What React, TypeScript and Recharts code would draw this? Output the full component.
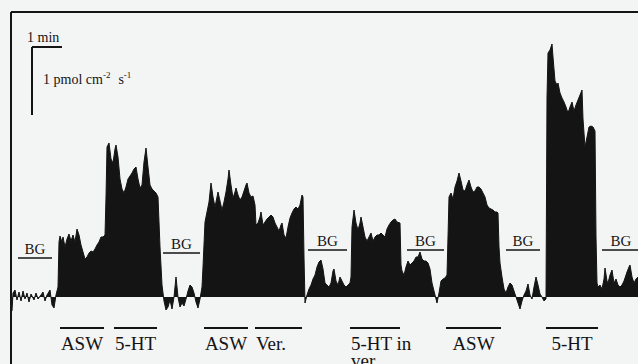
import { AreaChart, Area, XAxis, YAxis, ReferenceLine } from "recharts";

// ─── Trace (time in chart units, signal relative to background) ───────────────

const bg1: [number, number][] = [
  [12, -14], [13, 4], [15, 7], [17, -3], [19, 5], [21, -4], [23, 6], [25, -2], [27, 4], [29, -5],
  [31, 3], [34, -3], [36, 4], [38, -2], [41, 2], [43, 5], [45, -4], [47, 2], [50, 7], [52, -8],
  [54, -11], [56, 2], [57, 6],
];
const asw1: [number, number][] = [
  [58, 10], [59, 55], [60, 61], [62, 55], [63, 60], [65, 50], [67, 58], [69, 63], [71, 56], [73, 62],
  [75, 55], [77, 68], [79, 62], [81, 52], [83, 45], [85, 38], [87, 40], [89, 44], [91, 46], [93, 45],
  [95, 48], [97, 52], [99, 55], [101, 60], [103, 60],
];
const serotonin1: [number, number][] = [
  [105, 62], [106, 100], [107, 150], [109, 154], [111, 138], [113, 134], [115, 148], [116, 152],
  [118, 140], [120, 118], [122, 108], [124, 104], [126, 110], [128, 118], [130, 121], [132, 124],
  [134, 128], [136, 130], [138, 118], [140, 109], [142, 112], [144, 135], [146, 149], [148, 130],
  [150, 112], [152, 108], [154, 106], [156, 104], [158, 100], [160, 50], [162, 12],
];
const bg2: [number, number][] = [
  [164, -4], [166, -13], [168, -10], [170, -3], [172, -12], [174, 0], [176, 20], [178, 0], [180, -10],
  [182, -6], [184, -9], [186, -2], [188, 6], [190, 12], [192, 10], [194, 4], [196, -5], [198, -11],
  [200, -2],
];
const asw2: [number, number][] = [
  [202, 10], [203, 30], [205, 75], [207, 85], [209, 95], [211, 114], [213, 100], [215, 90], [217, 100],
  [218, 105], [220, 96], [222, 87], [224, 95], [226, 105], [228, 118], [229, 127], [231, 112],
  [233, 99], [235, 105], [236, 109], [238, 102], [240, 97], [242, 100], [244, 106], [246, 112],
  [247, 114], [249, 104], [251, 100], [253, 101], [255, 92],
];
const verapamil: [number, number][] = [
  [256, 72], [258, 74], [260, 80], [261, 85], [263, 72], [265, 75], [267, 78], [269, 80], [271, 82],
  [273, 80], [275, 74], [277, 70], [279, 66], [281, 72], [282, 74], [284, 62], [286, 59], [288, 70],
  [290, 79], [292, 84], [294, 88], [296, 90], [298, 88], [300, 92], [302, 102], [303, 100], [304, 40],
];
const bg3: [number, number][] = [
  [305, -6], [307, 2], [309, 8], [311, 12], [313, 18], [315, 22], [317, 30], [319, 35], [321, 37],
  [323, 28], [325, 14], [327, 12], [329, 10], [331, 14], [333, 26], [334, 28], [336, 16], [338, 12],
  [340, 20], [342, 16], [344, 12], [346, 10], [348, 12], [350, 14],
];
const serotoninInVer: [number, number][] = [
  [351, 20], [352, 70], [354, 87], [356, 74], [358, 67], [360, 74], [361, 80], [363, 70], [365, 60],
  [367, 56], [369, 60], [371, 64], [373, 56], [375, 60], [377, 62], [379, 62], [381, 64], [383, 62],
  [385, 60], [387, 68], [389, 72], [391, 75], [393, 77], [395, 78], [397, 75], [400, 74], [401, 32],
];
const bg4: [number, number][] = [
  [402, 26], [404, 22], [406, 30], [408, 36], [410, 32], [412, 34], [414, 36], [416, 40], [418, 40],
  [420, 45], [422, 38], [424, 36], [426, 36], [428, 34], [430, 28], [432, 14], [434, 6], [436, -2],
  [437, -6], [439, 4], [441, 16], [443, 18], [445, 19], [447, 22],
];
const asw3: [number, number][] = [
  [448, 60], [449, 100], [451, 104], [453, 98], [455, 110], [457, 116], [459, 124], [461, 116],
  [463, 107], [465, 106], [467, 112], [469, 117], [471, 110], [473, 105], [475, 106], [477, 110],
  [479, 110], [481, 108], [483, 104], [485, 100], [487, 92], [489, 89], [491, 88], [493, 87],
  [495, 85], [497, 85], [498, 84], [499, 50], [500, 34], [502, 20], [504, 8],
];
const bg5: [number, number][] = [
  [506, 4], [508, 10], [510, 14], [512, 12], [514, 6], [516, 0], [518, -6], [520, -12], [522, -4],
  [524, 2], [526, 6], [528, 13], [530, 2], [532, -2], [534, 10], [536, 20], [538, 12], [540, 3],
  [542, 0], [544, -4], [546, -2],
];
const serotonin2: [number, number][] = [
  [547, 200], [548, 244], [550, 247], [551, 250], [552, 253], [553, 240], [555, 216], [557, 212],
  [558, 214], [560, 204], [562, 199], [564, 195], [566, 190], [568, 184], [570, 190], [572, 195],
  [574, 186], [576, 192], [578, 197], [580, 202], [582, 207], [583, 178], [585, 150], [587, 160],
  [589, 170], [591, 171], [593, 170], [595, 166], [596, 60], [597, 14],
];
const bg6: [number, number][] = [
  [598, 10], [600, 12], [602, 8], [604, 18], [605, 29], [607, 16], [608, 14], [610, 22], [612, 27],
  [614, 14], [616, 18], [618, 12], [620, 10], [622, 12], [624, 16], [626, 22], [627, 25], [629, 30],
  [630, 32], [632, 20], [634, 14], [636, 18], [638, 20],
];

const trace = [
  ...bg1, ...asw1, ...serotonin1, ...bg2, ...asw2, ...verapamil, ...bg3,
  ...serotoninInVer, ...bg4, ...asw3, ...bg5, ...serotonin2, ...bg6,
].map(([t, v]) => ({ t, v }));

// ─── Annotations ───────────────────────────────────────────────────────────────

const bgMarks = [
  { from: 18, to: 52, level: 39 },
  { from: 163, to: 200, level: 44 },
  { from: 308, to: 347, level: 47 },
  { from: 407, to: 444, level: 47 },
  { from: 506, to: 540, level: 47 },
  { from: 602, to: 640, level: 47 },
];

const treatmentLevel = -31;
const treatments = [
  { label: ["ASW"], from: 60, to: 104, align: "middle" },
  { label: ["5-HT"], from: 114, to: 157, align: "middle" },
  { label: ["ASW"], from: 204, to: 248, align: "middle" },
  { label: ["Ver."], from: 255, to: 302, align: "start" },
  { label: ["5-HT in", "ver"], from: 350, to: 400, align: "start" },
  { label: ["ASW"], from: 446, to: 501, align: "middle" },
  { label: ["5-HT"], from: 546, to: 598, align: "middle" },
];

// scale bar: 1 min horizontally, 1 pmol cm-2 s-1 vertically
const scaleBar = { t0: 32, t1: 62, top: 250, bottom: 182 };

const ink = "#141414";
const serif = '"Liberation Serif", "Times New Roman", serif';

function textLabel(lines: string[], size: number, align: string, dx: number, dys: number[]) {
  return (props: any) => {
    const vb = props.viewBox || { x: 0, y: 0, width: 0, height: 0 };
    const x = (align === "middle" ? vb.x + vb.width / 2 : vb.x) + dx;
    return (
      <g>
        {lines.map((s, i) => (
          <text
            key={i}
            x={x}
            y={vb.y + dys[i]}
            textAnchor={align}
            fontFamily={serif}
            fontSize={size}
            fill={ink}
          >
            {s}
          </text>
        ))}
      </g>
    );
  };
}

function unitLabel(props: any) {
  const vb = props.viewBox || { x: 0, y: 0 };
  return (
    <text x={vb.x + 11} y={vb.y + 37} fontFamily={serif} fontSize={14} fill={ink}>
      1 pmol cm
      <tspan fontSize={9} dy={-6}>-2</tspan>
      <tspan dy={6} dx={8}>s</tspan>
      <tspan fontSize={9} dy={-6}>-1</tspan>
    </text>
  );
}

export default function App() {
  return (
    <div
      style={{
        position: "absolute",
        left: 0,
        top: 0,
        width: 638,
        height: 364,
        background: "#f3f4f4",
        overflow: "hidden",
      }}
    >
      <AreaChart
        width={638}
        height={364}
        data={trace}
        margin={{ top: 12, right: 0, bottom: 0, left: 11 }}
      >
        <XAxis dataKey="t" type="number" domain={[11, 638]} hide />
        <YAxis type="number" domain={[-67, 285]} hide />

        {/* frame: left and top edges */}
        <ReferenceLine x={11} stroke={ink} strokeWidth={2} ifOverflow="visible" />
        <ReferenceLine y={285} stroke={ink} strokeWidth={2} ifOverflow="visible" />

        <Area
          type="linear"
          dataKey="v"
          baseValue={0}
          stroke={ink}
          strokeWidth={1}
          fill={ink}
          fillOpacity={1}
          dot={false}
          activeDot={false}
          isAnimationActive={false}
        />

        {/* scale bar */}
        <ReferenceLine
          segment={[{ x: scaleBar.t0, y: scaleBar.top }, { x: scaleBar.t1, y: scaleBar.top }]}
          stroke={ink}
          strokeWidth={2}
          ifOverflow="visible"
          label={textLabel(["1 min"], 14, "start", -5, [-5])}
        />
        <ReferenceLine
          segment={[{ x: scaleBar.t0, y: scaleBar.top }, { x: scaleBar.t0, y: scaleBar.bottom }]}
          stroke={ink}
          strokeWidth={2}
          ifOverflow="visible"
          label={unitLabel}
        />

        {/* background periods */}
        {bgMarks.map((m, i) => (
          <ReferenceLine
            key={"bg" + i}
            segment={[{ x: m.from, y: m.level }, { x: m.to, y: m.level }]}
            stroke={ink}
            strokeWidth={1.6}
            ifOverflow="visible"
            label={textLabel(["BG"], 15, "middle", 0, [-4])}
          />
        ))}

        {/* treatments */}
        {treatments.map((m, i) => (
          <ReferenceLine
            key={"tr" + i}
            segment={[{ x: m.from, y: treatmentLevel }, { x: m.to, y: treatmentLevel }]}
            stroke={ink}
            strokeWidth={2}
            ifOverflow="visible"
            label={textLabel(m.label, 19, m.align, m.align === "start" ? 1 : 0, [22, 39])}
          />
        ))}
      </AreaChart>
    </div>
  );
}
